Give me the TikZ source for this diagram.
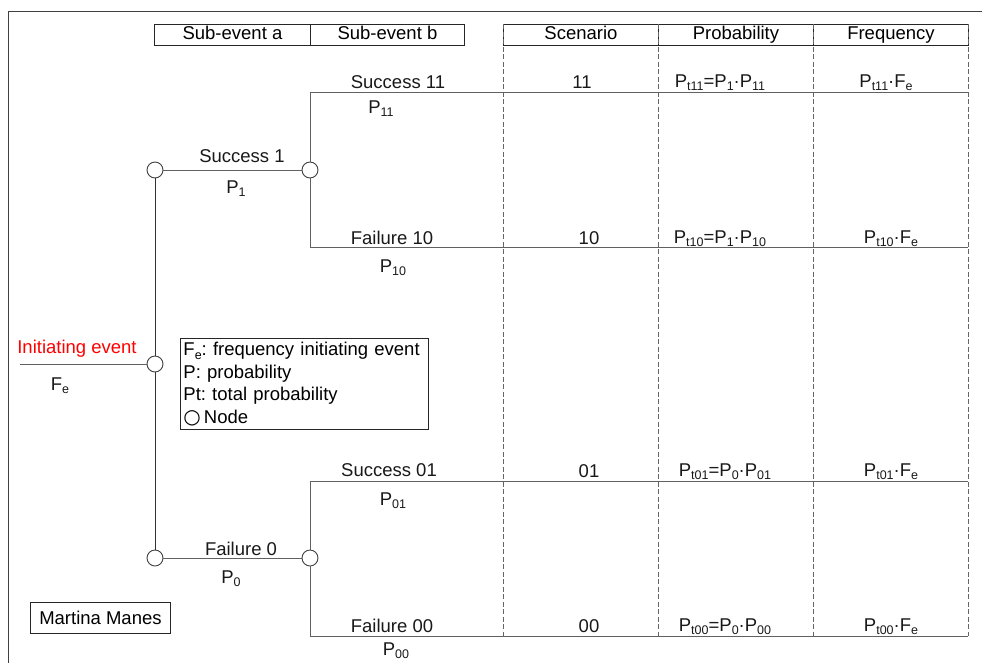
\documentclass[tikz,border=0pt]{standalone}
\usepackage{fontspec}
\setmainfont{Liberation Sans}
\newfontfamily\symfont{DejaVu Sans}
\frenchspacing
% lowered small index, as used in P_t11, F_e, ...
\newcommand{\sbs}[1]{\raisebox{-3.5pt}{\fontsize{12.5}{12.5}\selectfont #1}}
\begin{document}
\begin{tikzpicture}[x=1pt,y=-1pt,
  branch/.style={draw=black!62, line width=0.9pt},
  trunk/.style={draw=black!80, line width=0.9pt},
  coldiv/.style={draw=black!60, line width=0.7pt, dash pattern=on 5pt off 2.5pt},
  evnode/.style={circle, draw=black!75, fill=white, line width=0.9pt, minimum size=16pt, inner sep=0pt},
  lbl/.style={font=\fontsize{18.5}{21}\selectfont, inner sep=0pt, anchor=base, text=black!90},
  hcell/.style={draw=black!85, line width=0.9pt, anchor=north west, minimum height=21pt,
    inner sep=0pt, text height=13pt, text depth=3.5pt, font=\fontsize{18.5}{21}\selectfont},
  box/.style={draw=black!85, line width=0.9pt}
]
\useasboundingbox (0,0) rectangle (982,662);

% outer frame
\draw[draw=black!75, line width=0.9pt] (8,11) rectangle (995,680);

% header of the tree
\node[hcell, minimum width=156pt] (ha) at (154,24) {Sub-event a};
\node[hcell, minimum width=154pt] (hb) at (310,24) {Sub-event b};

% header of the result table
\node[hcell, minimum width=155pt] (hs) at (503,24) {Scenario};
\node[hcell, minimum width=155pt] (hp) at (658,24) {Probability};
\node[hcell, minimum width=155pt] (hf) at (813,24) {Frequency};

% dashed column dividers
\foreach \x/\n in {503/c0,658/c1,813/c2,968/c3}{
  \coordinate (\n t) at (\x,24);
  \coordinate (\n b) at (\x,636);
  \draw[coldiv] (\n t) -- (\n b);
}

% event nodes
\node[evnode] (n0) at (155,364) {};
\node[evnode] (n1) at (155,170) {};
\node[evnode] (n2) at (155,558) {};
\node[evnode] (n11) at (310,170) {};
\node[evnode] (n01) at (310,558) {};

% branch end points
\coordinate (start) at (20,364);
\coordinate (e11) at (968,92);
\coordinate (e10) at (968,247);
\coordinate (e01) at (968,481);
\coordinate (e00) at (968,636);

% branches
\draw[branch] (start) -- (n0.west);
\draw[trunk] (n0.north) -- (n1.south);
\draw[trunk] (n0.south) -- (n2.north);
\draw[branch] (n1.east) -- (n11.west);
\draw[branch] (n2.east) -- (n01.west);
\draw[branch] (n11.north) |- (e11);
\draw[branch] (n11.south) |- (e10);
\draw[branch] (n01.north) |- (e01);
\draw[branch] (n01.south) |- (e00);

% initiating event
\node[lbl, text=red] (ie) at (77,353) {Initiating event};
\node[lbl] (fe) at (60,390) {F\sbs{e}};

% first sub-event
\node[lbl] (s1) at (242,162) {Success 1};
\node[lbl] (p1) at (236,193) {P\sbs{1}};
\node[lbl] (f0) at (241,555) {Failure 0};
\node[lbl] (p0) at (231,583) {P\sbs{0}};

% second sub-event
\node[lbl] (s11) at (398,88) {Success 11};
\node[lbl] (p11) at (381,113) {P\sbs{11}};
\node[lbl] (f10) at (392,244) {Failure 10};
\node[lbl] (p10) at (393,272) {P\sbs{10}};
\node[lbl] (s01) at (389,476) {Success 01};
\node[lbl] (p01) at (393,505) {P\sbs{01}};
\node[lbl] (f00) at (392,632) {Failure 00};
\node[lbl] (p00) at (396,655) {P\sbs{00}};

% scenarios
\node[lbl] (sc11) at (582,88) {11};
\node[lbl] (sc10) at (589,244) {10};
\node[lbl] (sc01) at (589,477) {01};
\node[lbl] (sc00) at (589,632) {00};

% probabilities
\node[lbl] (pr11) at (720,87) {P\sbs{t11}=P\sbs{1}·P\sbs{11}};
\node[lbl] (pr10) at (720,243) {P\sbs{t10}=P\sbs{1}·P\sbs{10}};
\node[lbl] (pr01) at (725,476) {P\sbs{t01}=P\sbs{0}·P\sbs{01}};
\node[lbl] (pr00) at (725,631) {P\sbs{t00}=P\sbs{0}·P\sbs{00}};

% frequencies
\node[lbl] (fr11) at (886,87) {P\sbs{t11}·F\sbs{e}};
\node[lbl] (fr10) at (891,243) {P\sbs{t10}·F\sbs{e}};
\node[lbl] (fr01) at (891,476) {P\sbs{t01}·F\sbs{e}};
\node[lbl] (fr00) at (891,631) {P\sbs{t00}·F\sbs{e}};

% legend
\node[box, anchor=north west, minimum width=248pt, minimum height=91pt, text width=242pt,
  align=left, inner sep=3pt, font=\fontsize{18.5}{22.6}\selectfont] (legend) at (180,338)
  {F\sbs{e}: frequency initiating event\\
   P: probability\\
   Pt: total probability\\
   {\symfont\fontsize{20}{22}\selectfont ○}\,Node};

% author
\node[box, anchor=north west, minimum width=140pt, minimum height=31pt, inner sep=0pt,
  font=\fontsize{18.5}{21}\selectfont] (author) at (30,602) {Martina Manes};
\end{tikzpicture}
\end{document}
